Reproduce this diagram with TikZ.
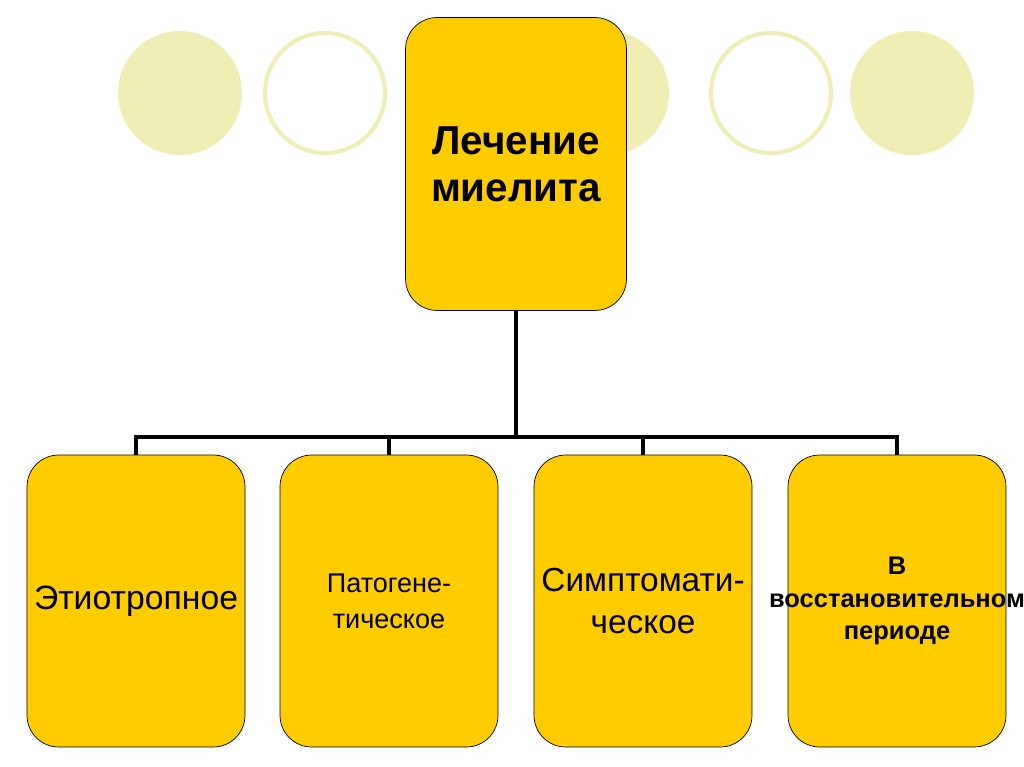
\documentclass[tikz,border=0pt]{standalone}
\usepackage{fontspec}
\setmainfont{Liberation Sans}
\definecolor{gold}{RGB}{255,204,0}
\definecolor{pale}{RGB}{238,238,180}
\tikzset{
  box/.style={draw,fill=gold,rounded corners=18pt,minimum width=4.36cm,minimum height=5.84cm,align=center,inner sep=0pt},
  link/.style={line width=2.8pt}
}
\begin{document}
\begin{tikzpicture}[x=0.02cm,y=-0.02cm]

\useasboundingbox[fill=white] (0,0) rectangle (1024,767);

\fill[pale] (180,93) circle (1.24cm);
\draw[pale,line width=2.3pt] (325,93) circle (1.2cm);
\fill[pale] (607,93) circle (1.24cm);
\draw[pale,line width=2.3pt] (771,93) circle (1.2cm);
\fill[pale] (912,93) circle (1.24cm);

\node[box,minimum width=4.42cm,minimum height=5.86cm,font=\bfseries\fontsize{23}{26.6}\selectfont]
(L)
at (516,164)
{Лечение\\миелита};

\node[box,font=\fontsize{19.2}{22}\selectfont]
(E)
at (136,601)
{Этиотропное};

\node[box,font=\fontsize{15.4}{20.4}\selectfont]
(P)
at (389,601)
{Патогене-\\тическое};

\node[box,font=\fontsize{19}{23.8}\selectfont]
(S)
at (643,601)
{Симптомати-\\ческое};

\node[box,font=\bfseries\fontsize{14.5}{18.7}\selectfont]
(V)
at (897,601)
{В\\\makebox[0pt]{восстановительном}\\периоде};

\coordinate (J) at (516,437);

\draw[link] (L) -- (J);
\draw[link] (J) -| (E);
\draw[link] (J) -| (P);
\draw[link] (J) -| (S);
\draw[link] (J) -| (V);

\end{tikzpicture}
\end{document}
